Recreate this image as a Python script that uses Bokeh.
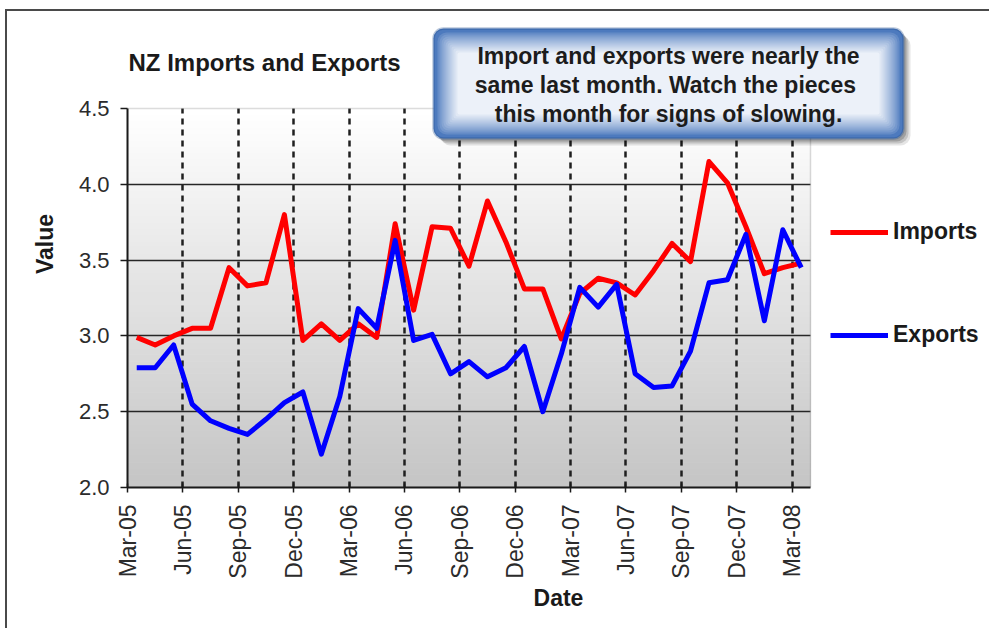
import math
import numpy as np
from bokeh.plotting import figure
from bokeh.models import (Range1d, FixedTicker, PrintfTickFormatter, Legend, LegendItem,
                          Label, BoxAnnotation, InlineStyleSheet)
from bokeh.embed import file_html
from bokeh.resources import INLINE

# ---- data -------------------------------------------------------------
chart_title = "NZ Imports and Exports"
quarter_labels = ["Mar-05", "Jun-05", "Sep-05", "Dec-05", "Mar-06", "Jun-06", "Sep-06",
                  "Dec-06", "Mar-07", "Jun-07", "Sep-07", "Dec-07", "Mar-08"]
# monthly values, Mar-05 .. Mar-08
imports = [2.99, 2.94, 3.00, 3.05, 3.05, 3.45, 3.33, 3.35, 3.80, 2.97, 3.08, 2.97, 3.08,
           2.99, 3.74, 3.17, 3.72, 3.71, 3.46, 3.89, 3.62, 3.31, 3.31, 2.98, 3.28, 3.38,
           3.35, 3.27, 3.43, 3.61, 3.49, 4.15, 4.01, 3.72, 3.41, 3.45, 3.48]
exports = [2.79, 2.79, 2.94, 2.55, 2.44, 2.39, 2.35, 2.45, 2.56, 2.63, 2.22, 2.60, 3.18,
           3.05, 3.63, 2.97, 3.01, 2.75, 2.83, 2.73, 2.79, 2.93, 2.50, 2.88, 3.32, 3.19,
           3.34, 2.75, 2.66, 2.67, 2.90, 3.35, 3.37, 3.67, 3.10, 3.70, 3.45]
y_ticks = [2.0, 2.5, 3.0, 3.5, 4.0, 4.5]
series_names = ["Imports", "Exports"]
callout_lines = ["Import and exports were nearly the",
                 "same last month.  Watch the pieces",
                 "this month for signs of slowing."]

# ---- geometry ---------------------------------------------------------
W, H = 989, 628
PL, PR, PT, PB = 127, 810, 108, 487          # plot area edges (px)
n_months = len(imports)
y_lo, y_hi = y_ticks[0], y_ticks[-1]
x = np.arange(n_months) + 0.5                 # each point centred in its month

# the frame runs from the y axis to the right and top canvas edges, so the title,
# callout and legend can live inside it; the plot area itself is bounded below
x_end = n_months * (W - PL) / (PR - PL)
y_end = y_lo + (y_hi - y_lo) * PB / (PB - PT)


def px_x(px):
    return (px - PL) / (PR - PL) * n_months


def px_y(py):
    return y_lo + (PB - py) / (PB - PT) * (y_hi - y_lo)


p = figure(width=W, height=H, x_range=Range1d(0, x_end), y_range=Range1d(y_lo, y_end),
           output_backend="svg", toolbar_location=None,
           min_border_left=PL, min_border_right=0, min_border_top=0,
           min_border_bottom=H - PB,
           background_fill_color="white", border_fill_color="white",
           outline_line_color=None)
p.title.text = ""
p.title.visible = False

# chart-area border on the left and top edges of the canvas
p.stylesheets = [InlineStyleSheet(css="""
:host { position: relative; }
:host::before { content: ''; position: absolute; left: 5px; top: 9px; width: 2px;
                height: 619px; background: #4a4a4a; z-index: 10; pointer-events: none; }
:host::after  { content: ''; position: absolute; left: 5px; top: 9px; width: 984px;
                height: 2px; background: #4a4a4a; z-index: 10; pointer-events: none; }
""")]

# vertical grey gradient behind the plot area
n_bands = 60
edges = np.linspace(y_lo, y_hi, n_bands + 1)
shade = np.linspace(198, 255, n_bands)
band_colors = ["#%02x%02x%02x" % (int(s), int(s), int(s)) for s in shade]
p.quad(left=0, right=n_months, bottom=edges[:-1], top=edges[1:],
       fill_color=band_colors, line_color=band_colors, line_width=1, level="image")

# grids
quarter_pos = [3 * k for k in range(len(quarter_labels))]
p.xgrid.ticker = FixedTicker(ticks=quarter_pos[1:])
p.xgrid.cross_bounds = (y_lo, y_hi)
p.xgrid.grid_line_color = "#1f1f1f"
p.xgrid.grid_line_dash = "6 5"
p.xgrid.grid_line_width = 2.5
p.ygrid.ticker = FixedTicker(ticks=y_ticks[1:-1])
p.ygrid.cross_bounds = (0, n_months)
p.ygrid.grid_line_color = "#262626"
p.ygrid.grid_line_width = 1.6

# plot-area border (top and right show; axes cover the other two sides)
p.add_layout(BoxAnnotation(left=0, right=n_months, bottom=y_lo, top=y_hi,
                           fill_alpha=0, line_color="#8a8a8a", line_width=1.5,
                           level="underlay"))

# axes
p.xaxis.bounds = (0, n_months)
p.xaxis.ticker = FixedTicker(ticks=quarter_pos)
p.xaxis.major_label_overrides = {pos: lab for pos, lab in zip(quarter_pos, quarter_labels)}
p.xaxis.major_label_orientation = math.pi / 2
p.xaxis.major_tick_in = 4
p.xaxis.major_tick_out = 5
p.xaxis.major_label_standoff = 12
p.xaxis.major_label_text_font_size = "23px"
p.xaxis.axis_label = "Date"
p.xaxis.axis_label_standoff = 3

p.yaxis.bounds = (y_lo, y_hi)
p.yaxis.ticker = FixedTicker(ticks=y_ticks)
p.yaxis.formatter = PrintfTickFormatter(format="%.1f")
p.yaxis.major_tick_in = 0
p.yaxis.major_tick_out = 7
p.yaxis.major_label_standoff = 11
p.yaxis.major_label_text_font_size = "22px"
p.yaxis.axis_label = "Value"
p.yaxis.axis_label_standoff = 18

for ax in (p.xaxis, p.yaxis):
    ax.minor_tick_line_color = None
    ax.axis_line_color = "#1a1a1a"
    ax.axis_line_width = 2
    ax.major_tick_line_color = "#1a1a1a"
    ax.major_tick_line_width = 1.5
    ax.major_label_text_font = "Liberation Sans"
    ax.major_label_text_color = "#2b2b2b"
    ax.axis_label_text_font = "Liberation Sans"
    ax.axis_label_text_font_style = "bold"
    ax.axis_label_text_font_size = "23px"
    ax.axis_label_text_color = "#1a1a1a"

# series
r_imp = p.line(x, imports, line_color="#ff0000", line_width=5, line_join="round")
r_exp = p.line(x, exports, line_color="#0000ff", line_width=5, line_join="round")

legend = Legend(items=[LegendItem(label=series_names[0], renderers=[r_imp]),
                       LegendItem(label=series_names[1], renderers=[r_exp])],
                location=(830 - PL, PB - 348), orientation="vertical",
                glyph_width=58, glyph_height=26, label_standoff=5, spacing=76,
                padding=0, margin=0, border_line_color=None, background_fill_alpha=0,
                label_text_font="Liberation Sans", label_text_font_style="bold",
                label_text_font_size="23px", label_text_color="#1a1a1a")
p.add_layout(legend)

# title
p.add_layout(Label(x=px_x(PL + 1), y=px_y(62), text=chart_title, text_align="left",
                   text_baseline="middle", text_font="Liberation Sans",
                   text_font_style="bold", text_font_size="24px", text_color="#1a1a1a"))

# callout box: soft shadow, blue rim, inner glow toward a pale centre
bx0, bx1, by0, by1 = 433, 903, 28, 138
for off, a in ((7, 0.10), (5, 0.14), (3, 0.18)):
    p.add_layout(BoxAnnotation(left=px_x(bx0 + off), right=px_x(bx1 + off),
                               top=px_y(by0 + off), bottom=px_y(by1 + off),
                               fill_color="#000000", fill_alpha=a, line_color=None,
                               border_radius=10))
p.add_layout(BoxAnnotation(left=px_x(bx0), right=px_x(bx1), top=px_y(by0), bottom=px_y(by1),
                           fill_color="#4d7abe", fill_alpha=1, line_color="#1b4a8a",
                           line_width=2.5, border_radius=10))
edge_rgb = np.array([77, 122, 190])
centre_rgb = np.array([236, 241, 249])
n_glow = 11
for k in range(1, n_glow + 1):
    t = k / n_glow
    c = edge_rgb + (centre_rgb - edge_rgb) * (t ** 0.8)
    inset = 2 + 2 * k
    p.add_layout(BoxAnnotation(left=px_x(bx0 + inset), right=px_x(bx1 - inset),
                               top=px_y(by0 + inset), bottom=px_y(by1 - inset),
                               fill_color="#%02x%02x%02x" % tuple(int(v) for v in c),
                               fill_alpha=1, line_color=None,
                               border_radius=max(10 - k, 2)))
for line, ypx in zip(callout_lines, (55, 84, 113)):
    p.add_layout(Label(x=px_x((bx0 + bx1) / 2), y=px_y(ypx), text=line, text_align="center",
                       text_baseline="middle", text_font="Liberation Sans",
                       text_font_style="bold", text_font_size="23px", text_color="#1c1c1c"))

open("out.html", "w").write(file_html(p, INLINE))
